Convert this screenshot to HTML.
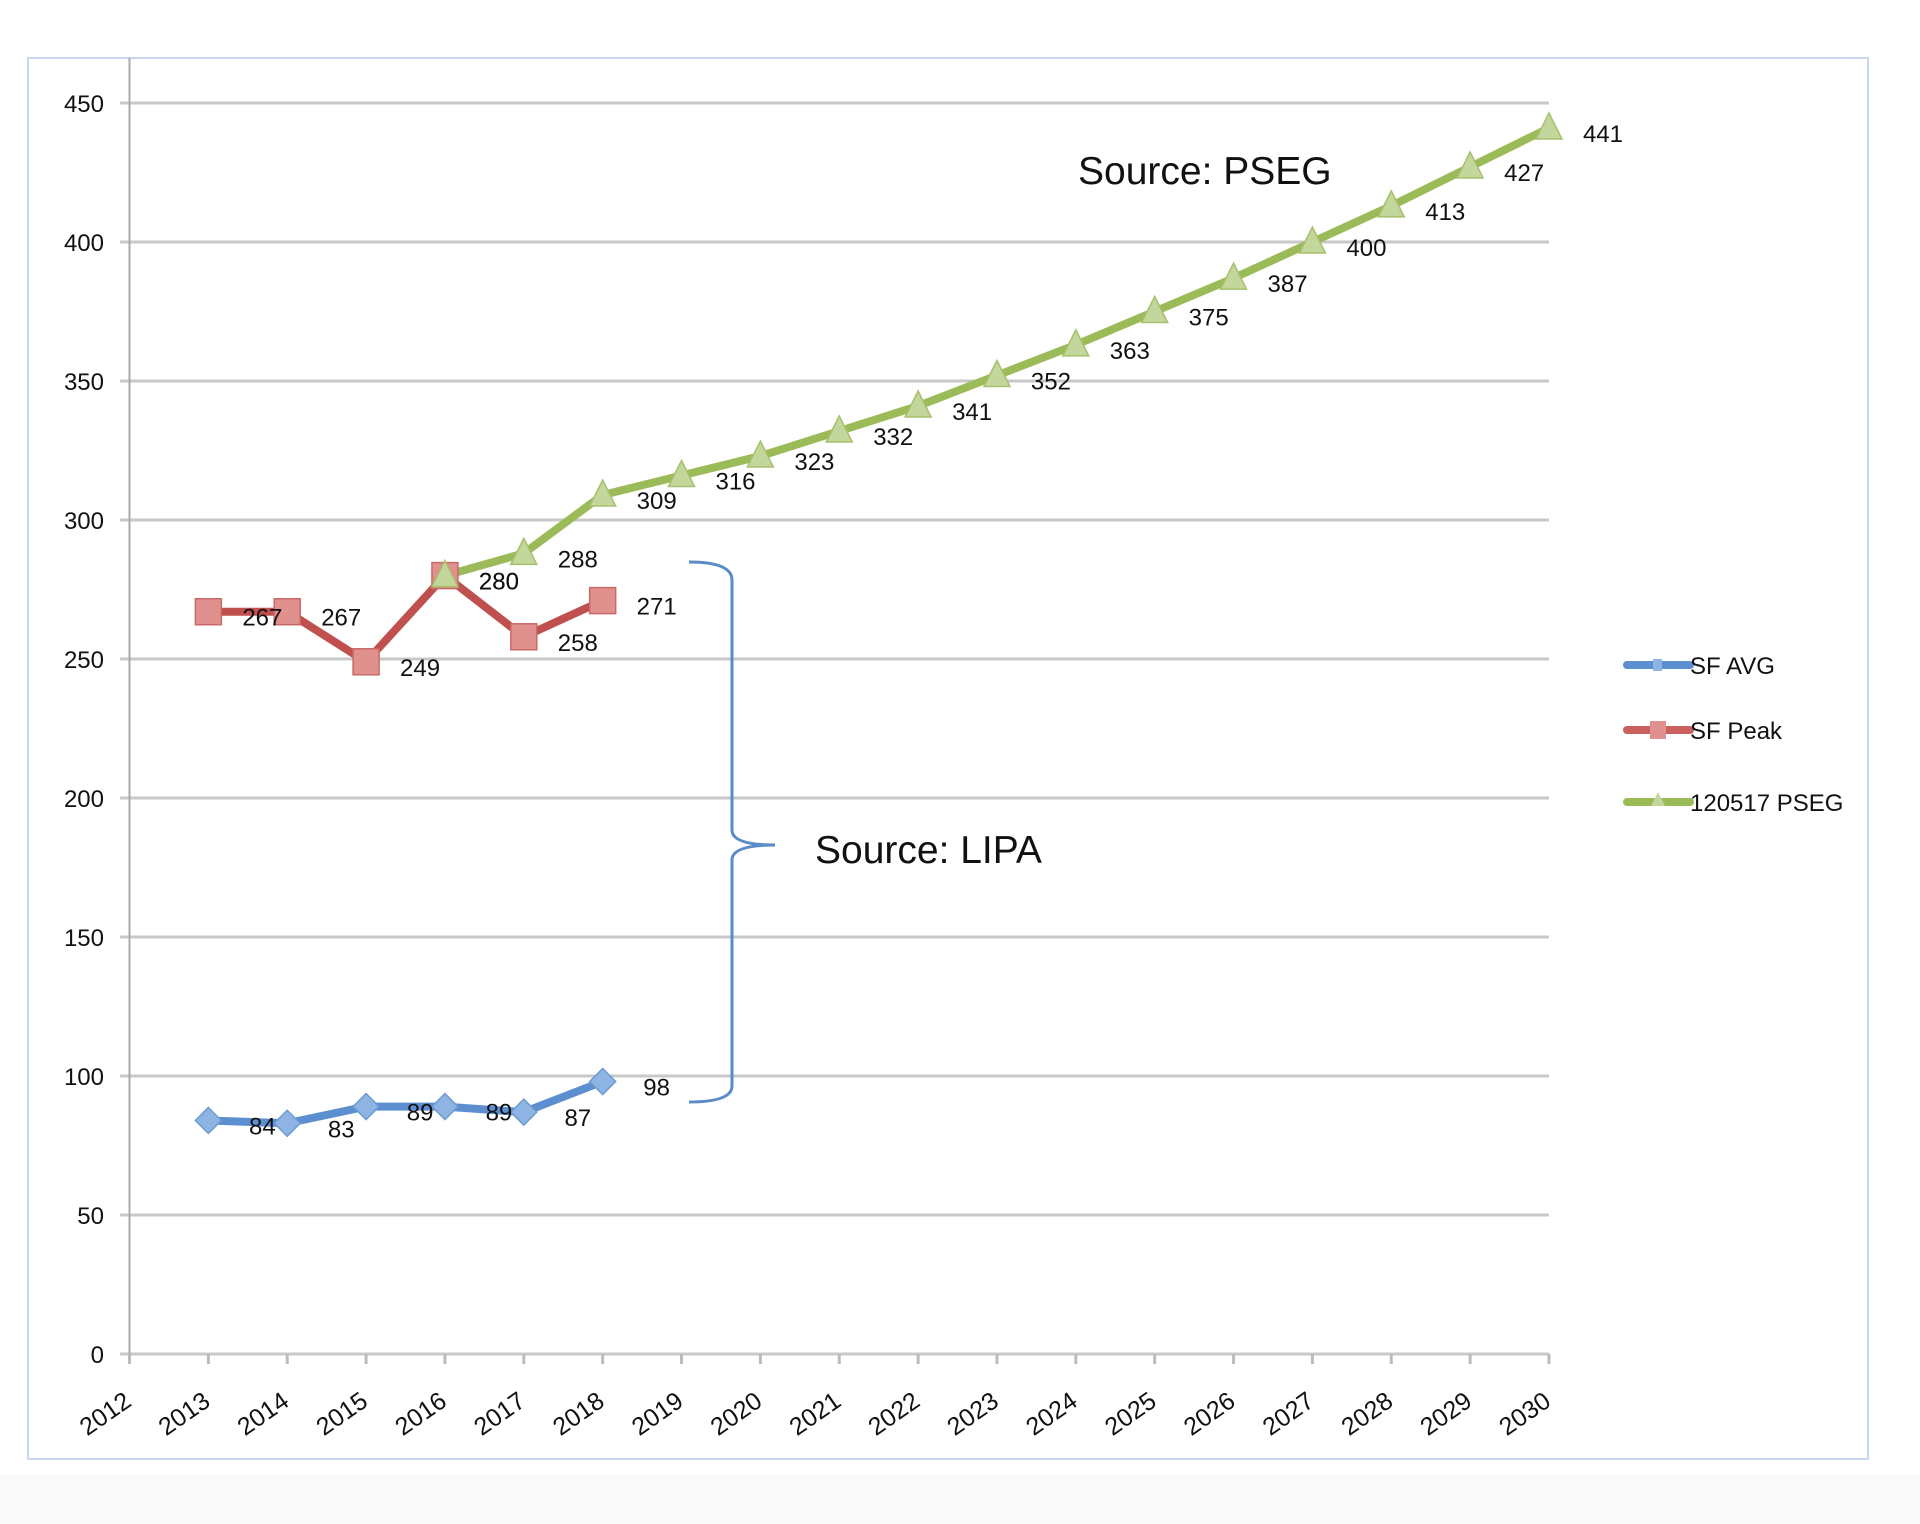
<!DOCTYPE html>
<html><head><meta charset="utf-8"><style>
html,body{margin:0;padding:0;background:#fff;}
svg{display:block;}
text{font-family:"Liberation Sans",sans-serif;fill:#111;}
</style></head><body>
<svg width="1920" height="1524" viewBox="0 0 1920 1524" xmlns="http://www.w3.org/2000/svg">
<rect x="0" y="1475" width="1920" height="49" fill="#fafafa"/>
<rect x="28" y="58" width="1840" height="1401" fill="#fff" stroke="#c9d8ee" stroke-width="2"/>
<g stroke="#c8c8c8" stroke-width="3">
<line x1="120" y1="103" x2="1549" y2="103"/>
<line x1="120" y1="242" x2="1549" y2="242"/>
<line x1="120" y1="381" x2="1549" y2="381"/>
<line x1="120" y1="520" x2="1549" y2="520"/>
<line x1="120" y1="659" x2="1549" y2="659"/>
<line x1="120" y1="798" x2="1549" y2="798"/>
<line x1="120" y1="937" x2="1549" y2="937"/>
<line x1="120" y1="1076" x2="1549" y2="1076"/>
<line x1="120" y1="1215" x2="1549" y2="1215"/>
<line x1="120" y1="1354" x2="1549" y2="1354"/>
</g>
<line x1="129.5" y1="58" x2="129.5" y2="1354" stroke="#aaa" stroke-width="2"/>
<g stroke="#bbb" stroke-width="3" id="ticks"></g>
<g font-size="24" text-anchor="end" id="ylab">
<text x="104" y="112">450</text><text x="104" y="251">400</text><text x="104" y="390">350</text>
<text x="104" y="529">300</text><text x="104" y="668">250</text><text x="104" y="807">200</text>
<text x="104" y="946">150</text><text x="104" y="1085">100</text><text x="104" y="1224">50</text>
<text x="104" y="1363">0</text>
</g>
<g id="xlab" font-size="25" text-anchor="middle"></g>
<g id="series"></g>
<g id="labels" font-size="24" text-anchor="middle"></g>
<text x="1078" y="184" font-size="39">Source: PSEG</text>
<text x="815" y="863" font-size="39">Source: LIPA</text>
<path d="M689,562 Q732,562 732,580 L732,830 Q732,845 775,845 Q732,845 732,860 L732,1086 Q732,1102 689,1102" fill="none" stroke="#5b8cc8" stroke-width="3"/>
<g>
<line x1="1627" y1="665" x2="1690" y2="665" stroke="#5b8fd0" stroke-width="8" stroke-linecap="round"/>
<rect x="1653" y="659" width="9" height="12" fill="#8db4e2"/>
<line x1="1627" y1="730" x2="1690" y2="730" stroke="#c9605d" stroke-width="8" stroke-linecap="round"/>
<rect x="1650" y="721" width="16" height="18" fill="#e0908d"/>
<line x1="1627" y1="802" x2="1690" y2="802" stroke="#9bbb59" stroke-width="8" stroke-linecap="round"/>
<polygon points="1658,792 1651,806 1665,806" fill="#c3d69b"/>
<text x="1690" y="674" font-size="24">SF AVG</text>
<text x="1690" y="739" font-size="24">SF Peak</text>
<text x="1690" y="811" font-size="24">120517 PSEG</text>
</g>
</svg>
<script>
(function(){
var NS="http://www.w3.org/2000/svg";
function X(yr){return 129.5+(yr-2012)*78.86;}
function Y(v){return 1354-v*(1251/450);}
function el(p,t,a,txt){var e=document.createElementNS(NS,t);for(var k in a)e.setAttribute(k,a[k]);if(txt!==undefined)e.textContent=txt;document.getElementById(p).appendChild(e);return e;}
for(var y=2012;y<=2030;y++){
 el("ticks","line",{x1:X(y),y1:1354,x2:X(y),y2:1364});
 var cx=X(y)-24,cy=1414;
 el("xlab","text",{x:cx,y:cy+8,transform:"rotate(-35 "+cx+" "+cy+")"},String(y));
}
var blue=[84,83,89,89,87,98],red=[267,267,249,280,258,271];
var green=[280,288,309,316,323,332,341,352,363,375,387,400,413,427,441];
function line(data,start,col){var pts=data.map(function(v,i){return X(start+i)+","+Y(v)}).join(" ");
 el("series","polyline",{points:pts,fill:"none",stroke:col,"stroke-width":8,"stroke-linejoin":"round"});}
line(red,2013,"#c0504d");line(blue,2013,"#5b8fd0");line(green,2016,"#9bbb59");
red.forEach(function(v,i){var x=X(2013+i),y=Y(v);el("series","rect",{x:x-13,y:y-13,width:26,height:26,fill:"#e0908d",stroke:"#c96a67","stroke-width":1.5});});
blue.forEach(function(v,i){var x=X(2013+i),y=Y(v);el("series","polygon",{points:x+","+(y-13)+" "+(x+13)+","+y+" "+x+","+(y+13)+" "+(x-13)+","+y,fill:"#8db4e2",stroke:"#6d9bd2","stroke-width":1.5});});
green.forEach(function(v,i){var x=X(2016+i),y=Y(v);el("series","polygon",{points:x+","+(y-15)+" "+(x+13)+","+(y+11)+" "+(x-13)+","+(y+11),fill:"#c3d69b",stroke:"#a8c06e","stroke-width":1.5});});
function labs(data,start){data.forEach(function(v,i){el("labels","text",{x:X(start+i)+54,y:Y(v)+14},String(v));});}
labs(blue,2013);labs(red,2013);labs(green,2016);
})();
</script>
</body></html>
